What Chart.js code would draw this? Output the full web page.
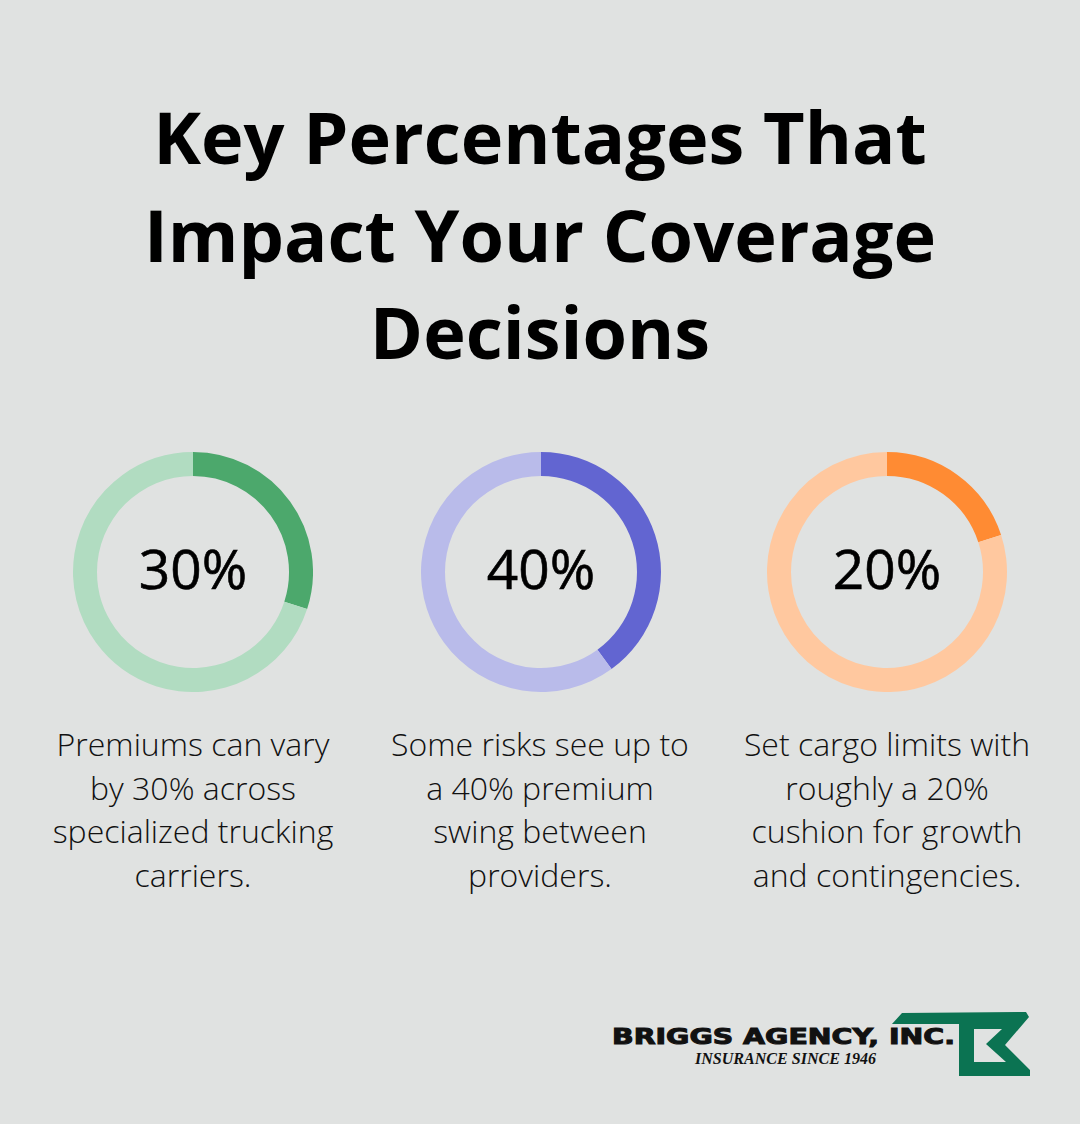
<!DOCTYPE html>
<html>
<head>
<meta charset="utf-8">
<script src="https://cdn.jsdelivr.net/npm/chart.js@4.4.0/dist/chart.umd.min.js"></script>
<style>
  html, body { margin: 0; padding: 0; }
  body { width: 1080px; height: 1124px; background: #e0e2e1; position: relative; overflow: hidden; font-family: "Open Sans", sans-serif; }
  .title { position: absolute; left: 0; top: 88px; width: 1080px; text-align: center; font-weight: 700; font-size: 72px; line-height: 97.5px; color: #000; }
  .ring { position: absolute; top: 452px; width: 240px; height: 240px; }
  .desc { position: absolute; top: 722px; width: 360px; text-align: center; font-weight: 300; font-size: 32px; line-height: 43.7px; color: #111; }
  .brand { position: absolute; white-space: nowrap; transform-origin: 0 0; }
  #brand1 { left: 612px; top: 1025px; font-family: "DejaVu Sans", sans-serif; font-weight: 700; font-size: 21px; color: #111; -webkit-text-stroke: 1px #111; }
  #brand2 { left: 695px; top: 1050px; font-family: "Liberation Serif", serif; font-style: italic; font-weight: 700; font-size: 16px; color: #111; }
  #mark { position: absolute; left: 0; top: 0; }
</style>
</head>
<body>
<div class="title">Key Percentages That<br>Impact Your Coverage<br>Decisions</div>

<canvas id="c0" class="ring" style="left:73px"></canvas>
<canvas id="c1" class="ring" style="left:421px"></canvas>
<canvas id="c2" class="ring" style="left:767px"></canvas>

<div class="desc" style="left:13px">Premiums can vary<br>by 30% across<br>specialized trucking<br>carriers.</div>
<div class="desc" style="left:360px">Some risks see up to<br>a 40% premium<br>swing between<br>providers.</div>
<div class="desc" style="left:707px">Set cargo limits with<br>roughly a 20%<br>cushion for growth<br>and contingencies.</div>

<span class="brand" id="brand1">BRIGGS AGENCY, INC.</span>
<span class="brand" id="brand2">INSURANCE SINCE 1946</span>
<svg id="mark" width="1080" height="1124">
  <path fill="#0b7352" fill-rule="evenodd"
    d="M892 1024 L902 1013 L1026 1012 L1029 1017 L1005 1045 L1030 1070 L1030 1076 L959 1076 L959 1024 Z
       M974 1029 L1002 1029 L986 1044 L1006 1062 L974 1062 Z"/>
</svg>

<script>
const labels = ["30%", "40%", "20%"];
const shares = [30, 40, 20];
const rest = [70, 60, 80];
const darkColors = ["#4ca86c", "#6265d1", "#ff8b33"];
const lightColors = ["#b1dcc1", "#b9bbea", "#ffc89f"];

// fit logo text to its width in the picture
function fitWidth(id, w) {
  const el = document.getElementById(id);
  const r = el.getBoundingClientRect().width;
  el.style.transform = "scaleX(" + (w / r) + ")";
}

const centerText = {
  id: "centerText",
  afterDraw(chart) {
    const { ctx, chartArea } = chart;
    const cx = (chartArea.left + chartArea.right) / 2;
    const cy = (chartArea.top + chartArea.bottom) / 2;
    ctx.save();
    ctx.font = '400 55px "Open Sans"';
    ctx.fillStyle = "#000";
    ctx.strokeStyle = "#000";
    ctx.lineWidth = 0.6;
    ctx.textAlign = "center";
    ctx.textBaseline = "alphabetic";
    const t = chart.options.plugins.centerText.text;
    ctx.fillText(t, cx, cy + 17);
    ctx.strokeText(t, cx, cy + 17);
    ctx.restore();
  },
};

function draw() {
  fitWidth("brand1", 343);
  fitWidth("brand2", 181);
  labels.forEach((lab, i) => {
    new Chart(document.getElementById("c" + i), {
      type: "doughnut",
      plugins: [centerText],
      data: {
        labels: ["share", "rest"],
        datasets: [
          {
            data: [shares[i], rest[i]],
            backgroundColor: [darkColors[i], lightColors[i]],
            borderWidth: 0,
          },
        ],
      },
      options: {
        responsive: false,
        animation: false,
        cutout: "80%",
        layout: { padding: 0 },
        plugins: {
          legend: { display: false },
          tooltip: { enabled: false },
          centerText: { text: lab },
        },
      },
    });
  });
}

Promise.all([
  document.fonts.load('400 55px "Open Sans"'),
  document.fonts.load('700 72px "Open Sans"'),
  document.fonts.load('300 32px "Open Sans"'),
  document.fonts.load('700 21px "DejaVu Sans"'),
  document.fonts.load('italic 700 16px "Liberation Serif"'),
]).then(draw, draw);
</script>
</body>
</html>
